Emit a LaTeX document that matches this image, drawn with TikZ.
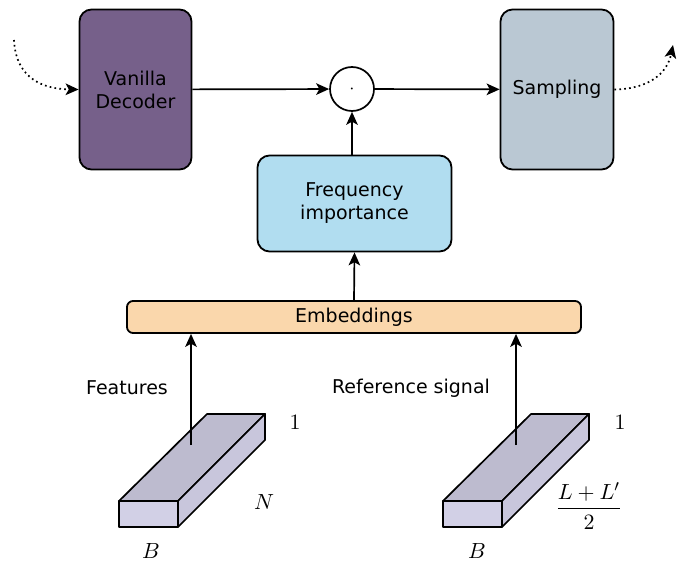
\documentclass[tikz,border=0pt]{standalone}
\usepackage{fontspec}
\setmainfont{DejaVu Sans}
\usetikzlibrary{positioning, arrows.meta, calc}

\definecolor{decoderfill}{HTML}{76608A}
\definecolor{samplefill}{HTML}{BAC8D3}
\definecolor{freqfill}{HTML}{B1DDF0}
\definecolor{embfill}{HTML}{FAD7AC}
\definecolor{topface}{HTML}{BDBBCF}
\definecolor{frontface}{HTML}{D2D0E6}
\definecolor{sideface}{HTML}{C8C6DC}

\begin{document}
\begin{tikzpicture}[
  x=0.5pt, y=-0.5pt,
  font=\fontsize{9.5}{11.5}\selectfont,
  block/.style={draw=black, line width=0.9pt, rounded corners=6pt, align=center, inner sep=0pt},
  flow/.style={-{Stealth[length=6.5pt, width=5.8pt, inset=1.6pt]}, line width=0.85pt},
  dotflow/.style={-{Stealth[length=6.5pt, width=5.8pt, inset=1.6pt]}, line width=0.85pt, dash pattern=on 0.85pt off 1.6pt},
  face/.style={draw=black, line width=0.85pt, line join=round},
  dim/.style={font=\fontsize{11}{13}\selectfont}
]
\useasboundingbox (0,0) rectangle (678,561);

% main blocks
\node[block, fill=decoderfill, minimum width=56pt, minimum height=80pt] (dec) at (135.5,89.5) {Vanilla\\Decoder};
\node[block, fill=samplefill, minimum width=56.5pt, minimum height=80pt] (samp) at (557,89.5) {Sampling};
\node[draw, circle, line width=0.85pt, minimum size=22pt, inner sep=0pt] (prod) at (352,89) {$\cdot$};
\node[block, fill=freqfill, minimum width=97pt, minimum height=48pt] (freq) at (354.5,203.5) {Frequency\\importance};
\node[block, fill=embfill, rounded corners=3pt, minimum width=227pt, minimum height=16pt] (emb) at (354,317) {Embeddings};

% connectors
\draw[flow] (dec) -- (prod);
\draw[flow] (prod) -- (samp);
\draw[flow] (prod |- freq.north) -- (prod);
\draw[flow] (emb.north) -- (freq.south);

% loop in and out
\coordinate (inflow) at (14,40);
\coordinate (outflow) at (673,45);
\draw[dotflow] (inflow) .. controls (16,80) and (45,89) .. (dec.west);
\draw[dotflow] (samp.east) .. controls (648,89) and (667,74) .. (outflow);

% input tensors
\foreach \dx in {0,324} {
  \draw[face, fill=topface] (119+\dx,501) -- (178+\dx,501) -- (265+\dx,414) -- (207+\dx,414) -- cycle;
  \draw[face, fill=sideface] (178+\dx,501) -- (265+\dx,414) -- (265+\dx,440) -- (178+\dx,527) -- cycle;
  \draw[face, fill=frontface] (119+\dx,501) rectangle (178+\dx,527);
}

\coordinate (featsrc) at (191,445);
\coordinate (refsrc) at (516,445);
\draw[flow] (featsrc) -- (featsrc |- emb.south);
\draw[flow] (refsrc) -- (refsrc |- emb.south);

\node (featlbl) at (127,388) {Features};
\node (reflbl) at (411,388) {Reference signal};

% tensor sizes
\node[dim] (featone) at (295,422) {$1$};
\node[dim] (featn) at (264,502) {$N$};
\node[dim] (featb) at (151,551) {$B$};
\node[dim] (refone) at (620,422) {$1$};
\node[dim] (refl) at (589,506) {$\displaystyle\frac{L+L'}{2}$};
\node[dim] (refb) at (477,551) {$B$};

\end{tikzpicture}
\end{document}
